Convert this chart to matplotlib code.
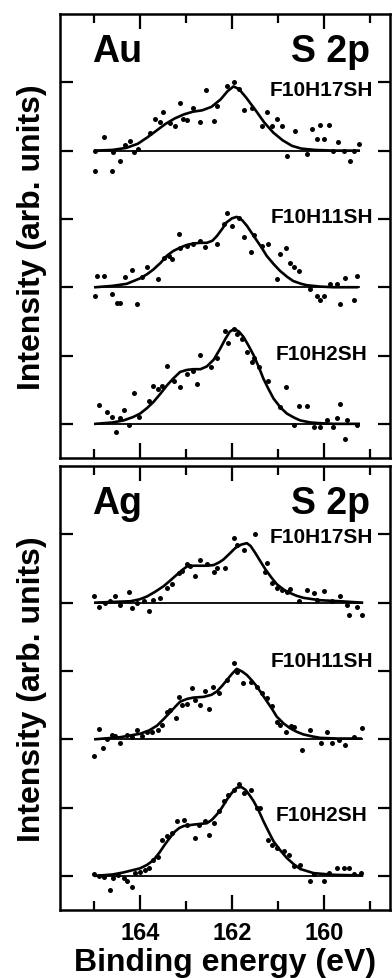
import matplotlib

matplotlib.use("Agg")
import matplotlib.pyplot as plt
from matplotlib.ticker import MultipleLocator

plt.rcParams["font.family"] = ["Liberation Sans", "DejaVu Sans"]
plt.rcParams["font.weight"] = "bold"

# Vertical offsets of the three stacked spectra (top to bottom)
SAMPLES = ["F10H17SH", "F10H11SH", "F10H2SH"]
OFFSETS = [4, 2, 0]

# ---- Au substrate -------------------------------------------------------
au_h17_fit_e = [164.97, 164.6, 164.3, 164.05, 163.85, 163.65, 163.45, 163.25, 163.05, 162.85,
                162.65, 162.45, 162.25, 162.1, 161.97, 161.85, 161.7, 161.5, 161.3, 161.1,
                160.9, 160.7, 160.5, 160.2, 159.8, 159.25]
au_h17_fit_i = [0.0, 0.01, 0.04, 0.10, 0.19, 0.29, 0.39, 0.47, 0.53, 0.57,
                0.59, 0.64, 0.75, 0.87, 0.94, 0.90, 0.78, 0.60, 0.41, 0.26,
                0.15, 0.07, 0.03, 0.01, 0.0, 0.0]
au_h17_dot_e = [164.97, 164.97, 164.79, 164.61, 164.58, 164.43, 164.32, 164.22, 164.14, 164.04,
                163.78, 163.67, 163.56, 163.51, 163.35, 163.24, 163.13, 163.06, 162.99, 162.84,
                162.69, 162.56, 162.40, 162.33, 162.11, 161.97, 161.86, 161.75, 161.57, 161.35,
                161.24, 161.14, 161.03, 160.92, 160.81, 160.63, 160.38, 160.27, 160.16, 160.09,
                160.01, 159.90, 159.80, 159.69, 159.58, 159.43, 159.36, 159.25]
au_h17_dot_i = [-0.01, -0.30, 0.20, -0.30, -0.02, -0.15, 0.08, 0.14, -0.02, 0.03,
                0.26, 0.46, 0.42, 0.56, 0.41, 0.36, 0.69, 0.46, 0.45, 0.63,
                0.42, 0.89, 0.44, 0.65, 0.945, 1.00, 0.90, 0.60, 0.63, 0.36,
                0.56, 0.36, 0.46, 0.36, -0.08, 0.29, -0.05, 0.31, 0.17, 0.38,
                0.17, 0.37, -0.01, 0.12, -0.01, -0.15, -0.01, 0.09]

au_h11_fit_e = [164.97, 164.6, 164.29, 164.0, 163.85, 163.71, 163.55, 163.42, 163.28, 163.13,
                162.98, 162.84, 162.7, 162.55, 162.43, 162.33, 162.22, 162.12, 162.0, 161.9,
                161.78, 161.68, 161.57, 161.46, 161.35, 161.25, 161.1, 160.96, 160.8, 160.67,
                160.5, 160.38, 160.1, 159.8, 159.29]
au_h11_fit_i = [0.0, 0.02, 0.05, 0.13, 0.19, 0.26, 0.36, 0.46, 0.53, 0.58,
                0.62, 0.64, 0.65, 0.65, 0.68, 0.75, 0.85, 0.95, 1.01, 1.03,
                0.98, 0.90, 0.79, 0.68, 0.57, 0.46, 0.34, 0.24, 0.15, 0.09,
                0.05, 0.03, 0.01, 0.0, 0.0]
au_h11_dot_e = [164.94, 164.79, 164.97, 164.61, 164.50, 164.43, 164.32, 164.18, 164.07, 163.96,
                163.85, 163.60, 163.49, 163.38, 163.31, 163.16, 163.13, 162.98, 162.84, 162.69,
                162.58, 162.33, 162.18, 162.11, 162.00, 161.86, 161.75, 161.60, 161.53, 161.35,
                161.21, 161.02, 160.96, 160.84, 160.74, 160.66, 160.55, 160.30, 160.16, 160.09,
                160.01, 159.87, 159.72, 159.65, 159.54, 159.36, 159.29]
au_h11_dot_i = [0.165, 0.165, -0.127, -0.10, -0.225, -0.225, 0.15, 0.25, -0.24, 0.15,
                0.30, 0.12, 0.43, 0.46, 0.41, 0.78, 0.58, 0.60, 0.64, 0.68,
                0.59, 0.63, 0.92, 1.08, 0.90, 1.02, 0.73, 0.51, 0.77, 0.60,
                0.64, 0.12, 0.49, 0.57, 0.36, 0.29, 0.24, -0.03, -0.13, -0.18,
                -0.13, 0.04, 0.04, -0.24, 0.14, -0.18, 0.165]

au_h2_fit_e = [164.97, 164.6, 164.36, 164.15, 164.0, 163.85, 163.71, 163.56, 163.42, 163.27,
               163.13, 162.98, 162.84, 162.69, 162.55, 162.4, 162.26, 162.15, 162.05, 161.95,
               161.85, 161.75, 161.64, 161.53, 161.42, 161.32, 161.21, 161.1, 160.95, 160.81,
               160.65, 160.52, 160.3, 160.09, 159.8, 159.25]
au_h2_fit_i = [0.0, 0.02, 0.05, 0.10, 0.15, 0.23, 0.32, 0.44, 0.56, 0.67,
               0.76, 0.79, 0.80, 0.80, 0.84, 0.94, 1.10, 1.24, 1.35, 1.39,
               1.35, 1.27, 1.14, 1.00, 0.83, 0.66, 0.51, 0.37, 0.24, 0.15,
               0.09, 0.05, 0.02, 0.01, 0.0, 0.0]
au_h2_dot_e = [164.90, 164.72, 164.61, 164.52, 164.43, 164.36, 164.25, 164.14, 164.03, 163.81,
               163.71, 163.60, 163.52, 163.42, 163.27, 163.13, 162.98, 162.84, 162.76, 162.69,
               162.47, 162.33, 162.15, 162.08, 161.97, 161.90, 161.79, 161.68, 161.57, 161.53,
               161.42, 161.21, 160.95, 160.84, 160.66, 160.55, 160.37, 160.23, 160.09, 159.94,
               159.80, 159.72, 159.65, 159.54, 159.51, 159.29]
au_h2_dot_i = [0.27, 0.17, 0.10, -0.12, 0.08, 0.21, -0.02, 0.45, 0.10, 0.34,
               0.56, 0.51, 0.56, 0.84, 0.63, 0.54, 0.73, 0.78, 0.585, 1.01,
               0.83, 0.97, 1.365, 1.19, 1.39, 1.315, 1.24, 1.05, 0.90, 0.97,
               0.83, 0.63, 0.24, 0.54, -0.02, 0.26, 0.26, -0.05, -0.05, 0.05,
               -0.05, 0.08, 0.29, -0.22, 0.05, -0.02]

# ---- Ag substrate -------------------------------------------------------
ag_h17_fit_e = [164.97, 164.6, 164.21, 164.0, 163.85, 163.67, 163.49, 163.35, 163.2, 163.08,
                162.98, 162.84, 162.69, 162.55, 162.4, 162.28, 162.19, 162.05, 161.93, 161.8,
                161.68, 161.6, 161.5, 161.4, 161.28, 161.15, 161.03, 160.88, 160.74, 160.6,
                160.45, 160.25, 160.09, 159.65, 159.18]
ag_h17_fit_i = [0.0, 0.01, 0.02, 0.05, 0.09, 0.16, 0.24, 0.32, 0.41, 0.48,
                0.53, 0.54, 0.54, 0.54, 0.55, 0.59, 0.63, 0.72, 0.80, 0.85,
                0.87, 0.83, 0.73, 0.62, 0.49, 0.37, 0.27, 0.19, 0.14, 0.10,
                0.07, 0.05, 0.035, 0.02, 0.0]
ag_h17_dot_e = [165.01, 164.90, 164.76, 164.65, 164.54, 164.43, 164.25, 164.18, 164.07, 163.92,
                163.81, 163.71, 163.56, 163.42, 163.31, 163.16, 163.09, 162.98, 162.91, 162.80,
                162.69, 162.55, 162.40, 162.33, 162.15, 161.97, 161.90, 161.75, 161.50, 161.28,
                161.24, 161.14, 161.03, 160.92, 160.81, 160.74, 160.55, 160.37, 160.23, 160.16,
                160.01, 159.83, 159.65, 159.50, 159.47, 159.29, 159.18]
ag_h17_dot_i = [0.09, -0.06, -0.01, 0.02, 0.09, -0.04, 0.15, -0.08, -0.01, 0.02,
                -0.13, 0.035, 0.07, 0.22, 0.27, 0.44, 0.46, 0.56, 0.53, 0.39,
                0.63, 0.56, 0.45, 0.51, 0.50, 0.94, 0.84, 0.77, 1.00, 0.45,
                0.58, 0.29, 0.22, 0.19, 0.15, 0.20, 0.02, 0.19, 0.14, 0.045,
                0.17, 0.02, 0.09, -0.03, -0.18, -0.06, -0.18]

ag_h11_fit_e = [164.97, 164.43, 164.0, 163.8, 163.63, 163.48, 163.34, 163.23, 163.13, 162.98,
                162.84, 162.62, 162.45, 162.33, 162.22, 162.11, 162.0, 161.9, 161.78, 161.68,
                161.57, 161.46, 161.35, 161.24, 161.13, 161.03, 160.88, 160.74, 160.6, 160.45,
                160.25, 160.09, 159.7, 159.21]
ag_h11_fit_i = [0.0, 0.03, 0.08, 0.13, 0.20, 0.30, 0.40, 0.48, 0.55, 0.59,
                0.61, 0.62, 0.65, 0.70, 0.78, 0.87, 0.96, 1.03, 0.99, 0.94,
                0.86, 0.77, 0.66, 0.55, 0.44, 0.33, 0.23, 0.16, 0.11, 0.07,
                0.04, 0.02, 0.01, 0.01]
ag_h11_dot_e = [165.01, 164.90, 164.81, 164.72, 164.61, 164.54, 164.43, 164.29, 164.18, 164.07,
                163.96, 163.85, 163.74, 163.60, 163.52, 163.42, 163.34, 163.23, 163.16, 163.09,
                162.98, 162.87, 162.80, 162.69, 162.58, 162.51, 162.42, 162.29, 162.11, 161.97,
                161.90, 161.76, 161.60, 161.46, 161.35, 161.24, 161.13, 161.03, 160.95, 160.84,
                160.73, 160.66, 160.48, 160.30, 160.08, 159.94, 159.83, 159.68, 159.54, 159.36,
                159.18]
ag_h11_dot_i = [-0.24, 0.15, -0.13, 0.01, 0.06, 0.05, -0.05, 0.06, 0.03, 0.13,
                0.05, 0.10, 0.11, 0.13, 0.21, 0.40, 0.43, 0.31, 0.62, 0.50,
                0.52, 0.75, 0.57, 0.50, 0.70, 0.44, 0.77, 0.67, 0.87, 1.11,
                0.99, 0.82, 0.84, 0.77, 0.67, 0.60, 0.48, 0.255, 0.21, 0.10,
                0.20, 0.18, -0.16, 0.13, -0.05, 0.10, -0.05, -0.015, -0.08, 0.034,
                0.17]

ag_h2_fit_e = [164.97, 164.6, 164.36, 164.0, 163.85, 163.71, 163.58, 163.46, 163.35, 163.24,
               163.15, 163.05, 162.84, 162.7, 162.55, 162.44, 162.33, 162.22, 162.11, 162.0,
               161.9, 161.8, 161.71, 161.62, 161.53, 161.42, 161.32, 161.21, 161.1, 160.95,
               160.81, 160.66, 160.52, 160.23, 159.79, 159.18]
ag_h2_fit_i = [0.0, 0.02, 0.05, 0.11, 0.16, 0.23, 0.34, 0.46, 0.56, 0.65,
               0.70, 0.73, 0.75, 0.76, 0.77, 0.82, 0.90, 1.00, 1.12, 1.22,
               1.29, 1.30, 1.26, 1.18, 1.09, 0.95, 0.80, 0.65, 0.505, 0.37,
               0.26, 0.17, 0.10, 0.04, 0.015, 0.005]
ag_h2_dot_e = [165.01, 164.90, 164.79, 164.65, 164.58, 164.47, 164.36, 164.29, 164.18, 164.10,
               164.00, 163.89, 163.81, 163.71, 163.60, 163.52, 163.42, 163.31, 163.20, 163.05,
               162.98, 162.80, 162.73, 162.58, 162.51, 162.40, 162.29, 162.18, 162.08, 161.97,
               161.86, 161.75, 161.60, 161.46, 161.39, 161.21, 161.13, 161.03, 160.88, 160.77,
               160.66, 160.52, 160.30, 160.23, 160.01, 159.90, 159.72, 159.58, 159.47, 159.36,
               159.21]
ag_h2_dot_i = [0.025, 0.005, -0.01, -0.21, -0.035, 0.015, -0.035, -0.07, -0.17, 0.04,
               0.06, 0.09, 0.12, 0.235, 0.27, 0.53, 0.58, 0.63, 0.80, 0.82,
               0.75, 0.56, 0.75, 0.80, 0.60, 0.77, 0.95, 1.09, 1.19, 1.25,
               1.35, 1.22, 1.25, 0.995, 0.995, 0.53, 0.455, 0.41, 0.36, 0.31,
               0.14, 0.16, -0.08, 0.025, -0.08, 0.04, 0.11, 0.11, 0.11, 0.025,
               0.04]

AU_SPECTRA = [
    (au_h17_fit_e, au_h17_fit_i, au_h17_dot_e, au_h17_dot_i),
    (au_h11_fit_e, au_h11_fit_i, au_h11_dot_e, au_h11_dot_i),
    (au_h2_fit_e, au_h2_fit_i, au_h2_dot_e, au_h2_dot_i),
]
AG_SPECTRA = [
    (ag_h17_fit_e, ag_h17_fit_i, ag_h17_dot_e, ag_h17_dot_i),
    (ag_h11_fit_e, ag_h11_fit_i, ag_h11_dot_e, ag_h11_dot_i),
    (ag_h2_fit_e, ag_h2_fit_i, ag_h2_dot_e, ag_h2_dot_i),
]

# where the sample names sit (energy of right edge, intensity)
AU_LABEL_POS = [(158.93, 4.90), (158.93, 3.03), (159.07, 1.03)]
AG_LABEL_POS = [(158.93, 4.97), (158.93, 3.15), (159.07, 0.90)]

X_MAJOR = [164, 162, 160]
XLIM = (165.74, 158.57)
YLIM = (-0.5, 6.0)


def draw_panel(ax, substrate, spectra, label_pos, base_end):
    for (fit_e, fit_i, dot_e, dot_i), offset, name, (lx, ly) in zip(
            spectra, OFFSETS, SAMPLES, label_pos):
        ax.plot([164.97, base_end], [offset, offset], color="black", lw=1.3)
        ax.plot(dot_e, [v + offset for v in dot_i], "o", color="black",
                ms=3.6, mec="none")
        ax.plot(fit_e, [v + offset for v in fit_i], color="black", lw=1.9)
        ax.text(lx, ly, name, ha="right", va="center", fontsize=15,
                fontweight="bold")

    ax.text(165.04, 5.31, substrate, ha="left", va="baseline", fontsize=27,
            fontweight="bold")
    ax.text(159.0, 5.31, "S 2p", ha="right", va="baseline", fontsize=27,
            fontweight="bold")

    ax.set_xlim(*XLIM)
    ax.set_ylim(*YLIM)
    ax.set_xticks(X_MAJOR)
    ax.xaxis.set_minor_locator(MultipleLocator(1))
    ax.set_yticks([0, 1, 2, 3, 4, 5])
    ax.set_yticklabels([])
    ax.tick_params(axis="x", which="major", direction="in", length=11,
                   width=1.6, top=True, bottom=True)
    ax.tick_params(axis="x", which="minor", direction="in", length=6.5,
                   width=1.6, top=True, bottom=True)
    ax.tick_params(axis="y", direction="in", length=9, width=1.6,
                   left=True, right=True)
    ax.tick_params(axis="x", labelsize=17, pad=8)
    for spine in ax.spines.values():
        spine.set_linewidth(1.8)
    ax.set_ylabel("Intensity (arb. units)", fontsize=23, fontweight="bold",
                  labelpad=6)


fig = plt.figure(figsize=(3.92, 9.79), dpi=100)
ax_au = fig.add_axes([60 / 392, 1 - 459 / 979, 330 / 392, 444 / 979])
ax_ag = fig.add_axes([60 / 392, 1 - 911 / 979, 330 / 392, 444 / 979])

draw_panel(ax_au, "Au", AU_SPECTRA, AU_LABEL_POS, 159.25)
draw_panel(ax_ag, "Ag", AG_SPECTRA, AG_LABEL_POS, 159.18)

ax_au.set_xticklabels([])
ax_ag.set_xticklabels([str(v) for v in X_MAJOR])
for lab in ax_ag.get_xticklabels():
    lab.set_fontweight("bold")
ax_ag.set_xlabel("Binding energy (eV)", fontsize=23, fontweight="bold",
                 labelpad=2)

fig.savefig("out.png", dpi=100)
